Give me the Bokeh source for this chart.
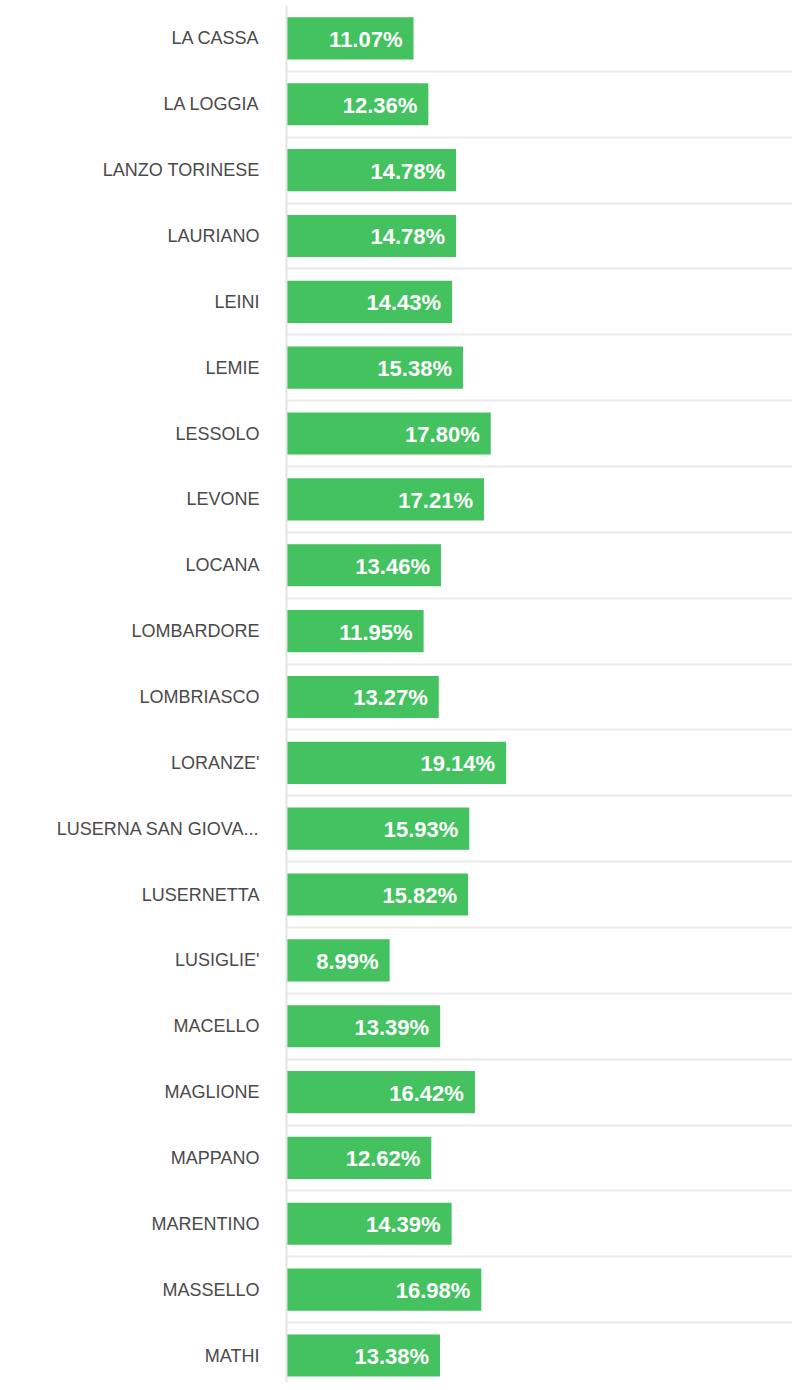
from bokeh.plotting import figure
from bokeh.models import Range1d, FixedTicker, ColumnDataSource
from bokeh.core.properties import value
from bokeh.embed import file_html
from bokeh.resources import INLINE

categories = ["LA CASSA", "LA LOGGIA", "LANZO TORINESE", "LAURIANO", "LEINI", "LEMIE",
              "LESSOLO", "LEVONE", "LOCANA", "LOMBARDORE", "LOMBRIASCO", "LORANZE'",
              "LUSERNA SAN GIOVA...", "LUSERNETTA", "LUSIGLIE'", "MACELLO", "MAGLIONE",
              "MAPPANO", "MARENTINO", "MASSELLO", "MATHI"]
values = [11.07, 12.36, 14.78, 14.78, 14.43, 15.38, 17.80, 17.21, 13.46, 11.95, 13.27,
          19.14, 15.93, 15.82, 8.99, 13.39, 16.42, 12.62, 14.39, 16.98, 13.38]
labels = ["%.2f%%" % v for v in values]

n = len(categories)
rows = list(range(n))
src = ColumnDataSource(dict(y=rows, v=values, lab=labels))

p = figure(width=792, height=1382, output_backend="svg", toolbar_location=None,
           x_range=Range1d(0, 44.1), y_range=Range1d(20.41, -0.5),
           min_border_left=286, min_border_right=0, min_border_top=5, min_border_bottom=0)
p.outline_line_color = None
p.background_fill_color = "white"

p.hbar(y="y", left=0, right="v", height=0.64, source=src, fill_color="#43c25f", line_color=None)
p.text(x="v", y="y", text="lab", source=src, x_offset=-11, y_offset=1,
       text_align="right", text_baseline="middle", text_color="white",
       text_font=value("Liberation Sans"), text_font_style="bold", text_font_size="22px")

p.xaxis.visible = False
p.xgrid.visible = False
p.ygrid.ticker = FixedTicker(ticks=[i + 0.5 for i in range(-1, n)])
p.ygrid.grid_line_color = "#ebebeb"
p.ygrid.grid_line_width = 2

p.yaxis.ticker = FixedTicker(ticks=rows)
p.yaxis.major_label_overrides = {i: c for i, c in enumerate(categories)}
p.yaxis.major_tick_line_color = None
p.yaxis.minor_tick_line_color = None
p.yaxis.axis_line_color = "#e3e3e3"
p.yaxis.axis_line_width = 2
p.yaxis.major_label_standoff = 21
p.yaxis.major_label_text_font = "Liberation Sans"
p.yaxis.major_label_text_font_size = "18px"
p.yaxis.major_label_text_color = "#4a4a4a"

open("out.html", "w").write(file_html(p, INLINE))
